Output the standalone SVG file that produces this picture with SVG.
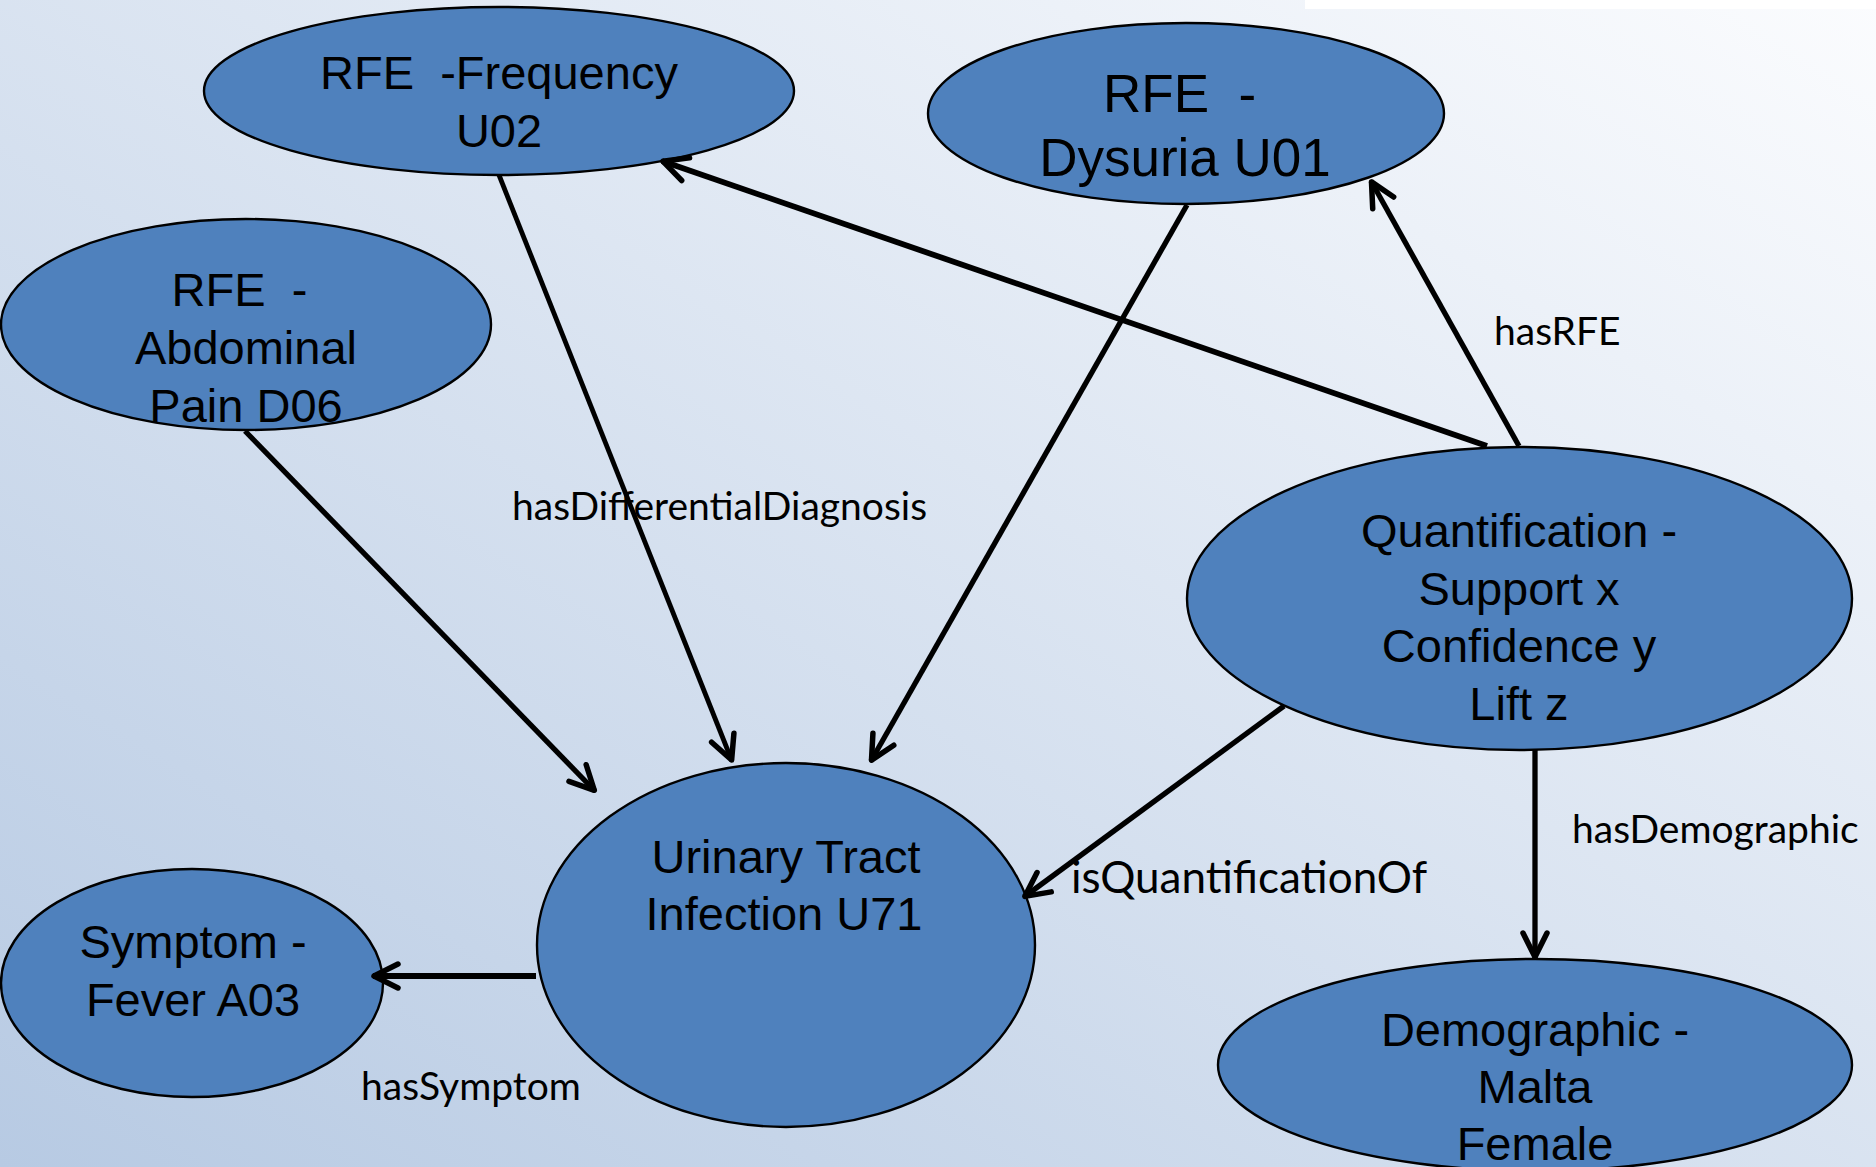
<svg xmlns="http://www.w3.org/2000/svg" width="1876" height="1167" viewBox="0 0 1876 1167">
<defs>
<linearGradient id="bg" x1="0" y1="1" x2="1" y2="0">
<stop offset="0" stop-color="#b7cae3"/>
<stop offset="1" stop-color="#fbfcfe"/>
</linearGradient>
<marker id="arr" markerUnits="userSpaceOnUse" viewBox="-32 -20 36 40" refX="0" refY="0" markerWidth="36" markerHeight="40" orient="auto" overflow="visible">
<path d="M-25,-12 L-1,0 L-25,12" fill="none" stroke="#000" stroke-width="5.5" stroke-linecap="round" stroke-linejoin="round"/>
</marker>
<style>
.node ellipse{fill:#4f81bd;stroke:#000;stroke-width:2.4}
.node text{font-family:"Liberation Sans",Arial,sans-serif;font-size:47px;fill:#000;text-anchor:middle}
.edge{fill:none;stroke:#000;stroke-width:5.3;marker-end:url(#arr)}
.lbl{font-family:Lato,"Open Sans",sans-serif;font-size:39px;fill:#000}
</style>
</defs>
<rect x="0" y="0" width="1876" height="1167" fill="url(#bg)"/>
<rect x="1305" y="0" width="571" height="9" fill="#ffffff"/>

<g id="node-frequency" class="node">
<ellipse cx="499" cy="91" rx="295" ry="84"/>
<text x="499" y="89" xml:space="preserve">RFE  -Frequency</text>
<text x="499" y="147">U02</text>
</g>
<g id="node-dysuria" class="node">
<ellipse cx="1186" cy="113.5" rx="258" ry="90.5"/>
<text x="1187" y="112" style="font-size:53px" xml:space="preserve">RFE  - </text>
<text x="1185" y="176" style="font-size:53px">Dysuria U01</text>
</g>
<g id="node-abdominal" class="node">
<ellipse cx="246" cy="324.5" rx="245" ry="105.5"/>
<text x="246" y="306" xml:space="preserve">RFE  - </text>
<text x="246" y="364">Abdominal</text>
<text x="246" y="422">Pain D06</text>
</g>
<g id="node-quantification" class="node">
<ellipse cx="1519.5" cy="598.5" rx="332.5" ry="151.5"/>
<text x="1519" y="547">Quantification -</text>
<text x="1519" y="604.5">Support x</text>
<text x="1519" y="662">Confidence y</text>
<text x="1519" y="719.5">Lift z</text>
</g>
<g id="node-uti" class="node">
<ellipse cx="786" cy="945" rx="249" ry="182"/>
<text x="786" y="873">Urinary Tract</text>
<text x="784" y="930">Infection U71</text>
</g>
<g id="node-symptom" class="node">
<ellipse cx="192" cy="983" rx="191" ry="114"/>
<text x="193" y="958">Symptom -</text>
<text x="193" y="1016">Fever A03</text>
</g>
<g id="node-demographic" class="node">
<ellipse cx="1535" cy="1065" rx="317" ry="106"/>
<text x="1535" y="1046">Demographic -</text>
<text x="1535" y="1103">Malta</text>
<text x="1535" y="1160">Female</text>
</g>

<g id="connectors">
<line class="edge" x1="499" y1="175" x2="732" y2="761" style="stroke-width:4.8"/>
<line class="edge" x1="1187" y1="205" x2="871" y2="761"/>
<line class="edge" x1="245" y1="431" x2="595" y2="791"/>
<line class="edge" x1="1487" y1="446" x2="662" y2="161" style="stroke-width:5.8"/>
<line class="edge" x1="1519" y1="446" x2="1371" y2="181"/>
<line class="edge" x1="1284" y1="706" x2="1024" y2="897"/>
<line class="edge" x1="1535" y1="750" x2="1535" y2="958"/>
<line class="edge" x1="536" y1="976" x2="373" y2="976" style="stroke-width:6"/>
<text class="lbl" x="512" y="520">hasDifferentialDiagnosis</text>
<text class="lbl" x="1494" y="345">hasRFE</text>
<text class="lbl" x="1071" y="893" style="font-size:44px">isQuantificationOf</text>
<text class="lbl" x="1572" y="843">hasDemographic</text>
<text class="lbl" x="361" y="1100">hasSymptom</text>
</g>
</svg>
